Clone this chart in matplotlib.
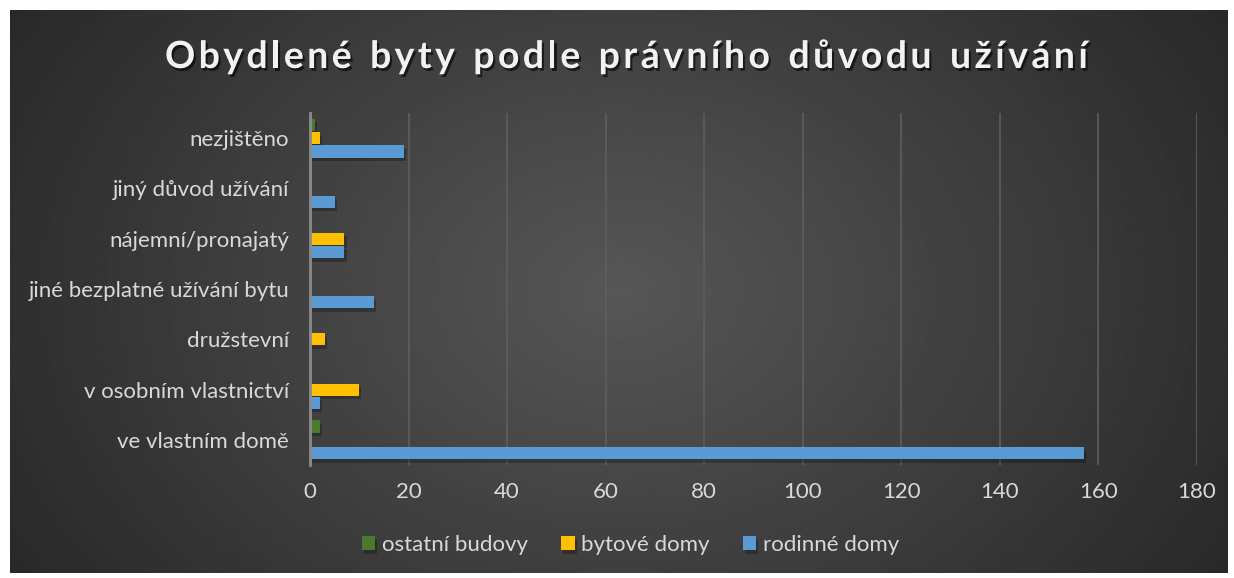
import numpy as np
import matplotlib
matplotlib.use("Agg")
import matplotlib.pyplot as plt
import matplotlib.patheffects as pe

categories = ["ve vlastním domě", "v osobním vlastnictví", "družstevní",
              "jiné bezplatné užívání bytu", "nájemní/pronajatý",
              "jiný důvod užívání", "nezjištěno"]
ostatni = [2, 0, 0, 0, 0, 0, 1]
bytove = [0, 10, 3, 0, 7, 0, 2]
rodinne = [157, 2, 0, 13, 7, 5, 19]
title = "Obydlené byty podle právního důvodu užívání"

plt.rcParams['font.family'] = ['Lato', 'DejaVu Sans']

W, H = 1234, 578
fig = plt.figure(figsize=(W / 100, H / 100), dpi=100, facecolor="white")

# dark radial gradient background
bg = fig.add_axes([10/W, 5/H, 1218/W, 563/H])
xx, yy = np.meshgrid(np.linspace(-1, 1, 400), np.linspace(-1, 1, 200))
r = np.sqrt((xx * 0.9) ** 2 + (yy * 0.55) ** 2)
bg.imshow(0.34 - 0.17 * np.clip(r, 0, 1.2), cmap="gray", vmin=0, vmax=1,
          aspect="auto", extent=[0, 1, 0, 1])
bg.set_axis_off()

ax = fig.add_axes([310/W, 113/H, 887/W, 352/H])
ax.set_facecolor("none")

y = np.arange(len(categories))
h = 0.24
off = 0.265
shadow = [pe.SimplePatchShadow(offset=(1.5, -2.5), shadow_rgbFace="black", alpha=0.25), pe.Normal()]
ax.barh(y + off, ostatni, height=h, color="#4a7a2c", label="ostatní budovy", path_effects=shadow, zorder=3)
ax.barh(y, bytove, height=h, color="#ffc000", label="bytové domy", path_effects=shadow, zorder=3)
ax.barh(y - off, rodinne, height=h, color="#5b9bd5", label="rodinné domy", path_effects=shadow, zorder=3)

ax.set_xlim(0, 180)
ax.set_ylim(-0.5, 6.5)
ax.set_xticks(range(0, 181, 20))
ax.set_yticks(y)
ax.set_yticklabels(categories)
ax.tick_params(colors="#d9d9d9", labelsize=16, length=0)
ax.tick_params(axis="y", pad=15)
ax.tick_params(axis="x", pad=12)
ax.grid(axis="x", color="#5e5e5e", linewidth=1.2, zorder=0)
for s in ["top", "right", "bottom"]:
    ax.spines[s].set_visible(False)
ax.spines["left"].set_color("#8c8c8c")
ax.spines["left"].set_linewidth(2)
ax.spines["left"].set_zorder(4)

# title with letter spacing: place characters one by one
renderer = fig.canvas.get_renderer()
title_fx = [pe.withSimplePatchShadow(offset=(1.5, -2), shadow_rgbFace="black", alpha=0.6)]
widths = []
for ch in title:
    t = fig.text(0, 0, ch if ch != " " else "n", fontsize=27, fontweight="bold")
    w = t.get_window_extent(renderer).width
    widths.append(w * 0.55 if ch == " " else w)
    t.remove()
left_px, right_px = 165, 1088
gap = (right_px - left_px - sum(widths)) / (len(title) - 1)
x = left_px
for ch, w in zip(title, widths):
    if ch != " ":
        fig.text(x / W, 1 - 57 / H, ch, ha="left", va="center", fontsize=27,
                 fontweight="bold", color="#f2f2f2", path_effects=title_fx)
    x += w + gap

fig.legend(loc="center", bbox_to_anchor=(0.511, 0.057), ncol=3, frameon=False,
           fontsize=16, labelcolor="#d9d9d9", handlelength=0.6, handleheight=0.6,
           handletextpad=0.3, columnspacing=1.5)

fig.savefig("out.png", dpi=100, facecolor="white")
